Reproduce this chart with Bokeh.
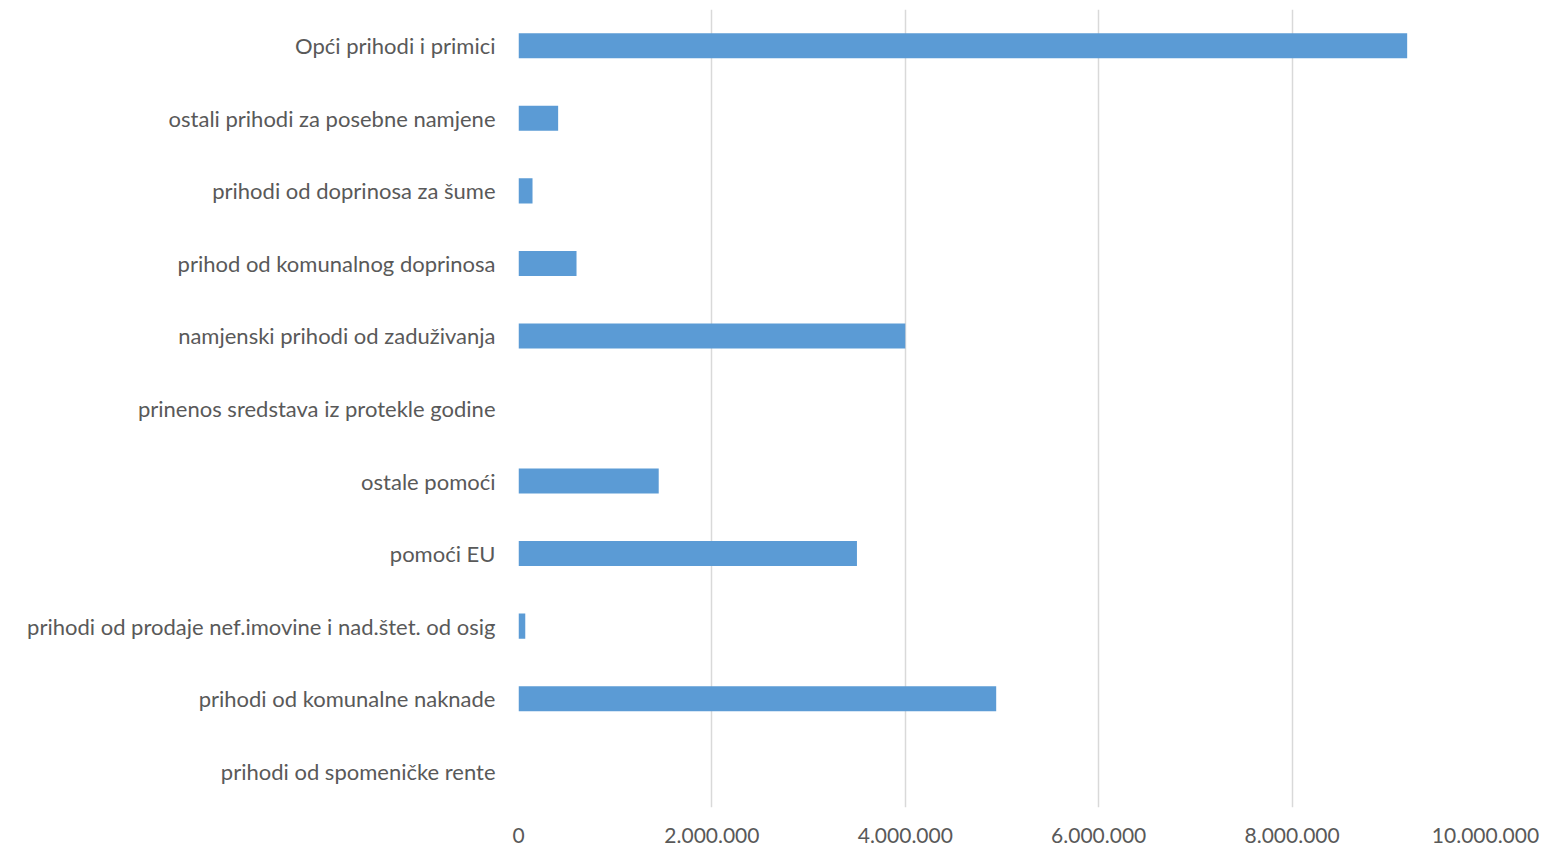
from bokeh.plotting import figure
from bokeh.models import Range1d, FactorRange, CustomJSTickFormatter, FixedTicker, ColumnDataSource
from bokeh.embed import file_html
from bokeh.resources import INLINE

categories = [
    "Opći prihodi i primici",
    "ostali prihodi za posebne namjene",
    "prihodi od doprinosa za šume",
    "prihod od komunalnog doprinosa",
    "namjenski prihodi od zaduživanja",
    "prinenos sredstava iz protekle godine",
    "ostale pomoći",
    "pomoći EU",
    "prihodi od prodaje nef.imovine i nad.štet. od osig",
    "prihodi od komunalne naknade",
    "prihodi od spomeničke rente",
]
values = [9190000, 410000, 145000, 600000, 4000000, 0, 1450000, 3500000, 70000, 4940000, 0]
tick_values = [0, 2000000, 4000000, 6000000, 8000000, 10000000]

src = ColumnDataSource(dict(cat=categories, val=values))

p = figure(width=1545, height=847, output_backend="svg", toolbar_location=None,
           y_range=FactorRange(factors=list(reversed(categories))),
           x_range=Range1d(0, 10000000))
p.min_border_left = 518
p.min_border_right = 60
p.min_border_top = 9
p.min_border_bottom = 40
p.outline_line_color = None

p.hbar(y="cat", right="val", left=0, height=0.345, source=src, color="#5B9BD5", line_color=None)

p.xaxis.ticker = FixedTicker(ticks=tick_values)
p.xaxis.formatter = CustomJSTickFormatter(code="""
return Math.round(tick).toString().replace(/\\B(?=(\\d{3})+(?!\\d))/g, ".");
""")
for ax in (p.xaxis[0], p.yaxis[0]):
    ax.axis_line_color = None
    ax.major_tick_line_color = None
    ax.minor_tick_line_color = None
    ax.major_tick_out = 0
    ax.major_tick_in = 0
    ax.major_label_text_font = "Lato"
    ax.major_label_text_font_size = "22px"
    ax.major_label_text_color = "#595959"
p.xaxis.major_label_text_font_size = "21px"
p.xaxis.major_label_standoff = 20
p.yaxis.major_label_standoff = 23

p.xgrid.grid_line_color = "#d9d9d9"
p.xgrid.grid_line_width = 1.5
p.ygrid.grid_line_color = None

open("out.html", "w").write(file_html(p, INLINE))
